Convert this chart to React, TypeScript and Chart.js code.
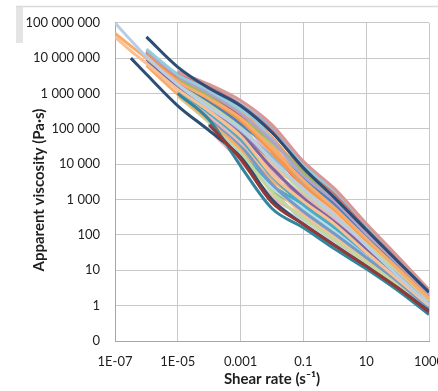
import { useEffect, useRef } from "react";
import { Chart, registerables } from "chart.js";

Chart.register(...registerables);

// Shear rates (s^-1) shared by all samples
const shearRates = [1e-7, 3.2e-7, 1e-6, 1e-5, 1e-4, 1e-3, 1e-2, 0.1, 1, 10, 100, 1000];

const xTickValues = [1e-7, 1e-5, 1e-3, 0.1, 10, 1000];
const xTickLabels = ["1E-07", "1E-05", "0.001", "0.1", "10", "1000"];
const yTickValues = [0.1, 1, 10, 100, 1e3, 1e4, 1e5, 1e6, 1e7, 1e8];
const yTickLabels = ["0", "1", "10", "100", "1 000", "10 000", "100 000", "1 000 000", "10 000 000", "100 000 000"];

const xTitle = "Shear rate (s\u207B\u00B9)";
const yTitle = "Apparent viscosity (Pa\u00B7s)";

const N = null;
// Apparent viscosity (Pa·s) of each sample
const s01 = [N, N, 4.0e7, 5.6e6, 1.4e6, 4.5e5, 7.9e4, 7.9e3, 1.1e3, 1.4e2, 18, 2.4];
const s02 = [N, N, N, N, 1.3e5, 1.4e4, 8.3e2, 2.0e2, 50, 13, 3.2, 0.66];
const s03 = [N, N, N, 1.0e6, 1.8e5, 8.9e3, 5.6e2, 1.6e2, 40, 11, 2.7, 0.56];
const s04 = [N, 1.0e7, 3.5e6, 4.5e5, 8.9e4, 1.6e4, 1.0e3, 2.0e2, 50, 13, 3.2, 0.71];
const s05 = [1e8, 3.2e7, 1.1e7, 1.8e6, 4.0e5, 1.0e5, 1.3e4, 2.0e3, 3.5e2, 50, 7.1, 1.1];
const s06 = [5.0e7, 2.2e7, 1.0e7, 2.2e6, 7.1e5, 2.0e5, 2.8e4, 3.5e3, 5.6e2, 79, 11, 1.6];
const s07 = [4.0e7, 1.6e7, 7.1e6, 1.3e6, 3.2e5, 6.3e4, 5.0e3, 8.9e2, 2.0e2, 32, 5.6, 1.0];
const s08 = [N, N, N, 4.0e6, 1.8e6, 6.3e5, 1.3e5, 1.2e4, 2.0e3, 2.1e2, 25, 2.8];
const s09 = [N, N, N, 4.0e6, 1.5e6, 4.6e5, 8.5e4, 7.3e3, 1.35e3, 1.5e2, 20, 2.4];
const s10 = [N, N, 1.8e7, 3.5e6, 1.2e6, 3.5e5, 7.9e4, 9.1e3, 1.6e3, 1.7e2, 22, 2.6];
const s11 = [N, N, 1.6e7, 3.1e6, 1.0e6, 2.7e5, 4.6e4, 4.8e3, 9.1e2, 1.1e2, 16, 2.0];
const s12 = [N, N, N, 2.7e6, 8.1e5, 2.0e5, 4.4e4, 5.9e3, 1.1e3, 1.3e2, 18, 2.2];
const s13 = [N, N, 1.3e7, 2.4e6, 7.0e5, 1.7e5, 2.2e4, 2.5e3, 5.1e2, 72, 12, 1.6];
const s14 = [N, N, N, 2.2e6, 6.0e5, 1.4e5, 2.6e4, 3.9e3, 7.5e2, 98, 14.5, 1.9];
const s15 = [N, N, 1.1e7, 1.95e6, 5.1e5, 1.1e5, 1.3e4, 1.7e3, 3.4e2, 55, 9.3, 1.4];
const s16 = [N, N, N, 1.8e6, 4.4e5, 9.1e4, 1.7e4, 3.1e3, 6.2e2, 84, 13, 1.7];
const s17 = [N, N, 9.4e6, 1.6e6, 3.8e5, 7.5e4, 7.8e3, 1.1e3, 2.3e2, 41, 7.6, 1.15];
const s18 = [N, N, N, 1.4e6, 3.2e5, 6.2e4, 1.0e4, 2.0e3, 4.2e2, 63, 10.5, 1.5];
const s19 = [N, N, 7.9e6, 1.3e6, 2.8e5, 5.0e4, 4.6e3, 7.1e2, 1.6e2, 31, 6.0, 1.0];
const s20 = [N, N, N, 1.2e6, 2.3e5, 4.1e4, 6.0e3, 1.3e3, 2.8e2, 47, 8.4, 1.26];
const s21 = [N, N, N, 1.05e6, 2.0e5, 3.4e4, 2.7e3, 4.6e2, 1.06e2, 23, 4.9, 0.84];
const s22 = [N, N, 6.2e6, 9.4e5, 1.7e5, 2.75e4, 3.5e3, 8.7e2, 1.9e2, 35, 6.8, 1.07];
const s23 = [N, N, N, 8.5e5, 1.5e5, 2.2e4, 1.6e3, 3.0e2, 72, 17, 3.9, 0.72];
const s24 = [N, N, N, N, 1.26e5, 1.8e4, 2.1e3, 5.7e2, 1.3e2, 27, 5.4, 0.91];
const s25 = [N, N, N, N, 1.1e5, 1.5e4, 1.0e3, 2.2e2, 54, 14, 3.4, 0.65];
const s26 = [N, N, N, 3.8e6, 1.4e6, 4.1e5, 5.2e4, 4.1e3, 8.0e2, 1.0e2, 15, 2.0];
const s27 = [N, N, 1.5e7, 2.8e6, 8.9e5, 2.3e5, 2.45e4, 2.2e3, 4.5e2, 67, 11, 1.5];
const s28 = [N, N, N, 2.3e6, 6.6e5, 1.55e5, 3.9e4, 6.7e3, 1.25e3, 1.4e2, 19.5, 2.3];
const s29 = [N, N, 1.08e7, 1.9e6, 4.8e5, 1.04e5, 8.5e3, 9.5e2, 2.0e2, 38, 7.1, 1.1];
const s30 = [N, N, N, 1.5e6, 3.5e5, 6.9e4, 1.8e4, 4.4e3, 8.5e2, 1.06e2, 15.5, 2.0];
const s31 = [N, N, N, N, 2.6e5, 4.6e4, 2.9e3, 3.7e2, 87, 20, 4.4, 0.78];
const s32 = [N, N, N, 1.0e6, 1.9e5, 3.1e4, 5.7e3, 1.7e3, 3.4e2, 55, 9.3, 1.4];
const s33 = [N, N, N, N, 1.4e5, 2.1e4, 2.6e3, 7.1e2, 1.6e2, 31, 6.0, 1.0];
const s34 = [N, N, N, N, 9.3e4, 1.2e4, 1.2e3, 3.4e2, 80, 18, 4.1, 0.74];
const s35 = [N, N, N, 3.3e6, 1.1e6, 3.1e5, 3.6e4, 2.9e3, 5.7e2, 79, 12.5, 1.7];
const s36 = [N, N, 1.16e7, 2.0e6, 5.5e5, 1.2e5, 3.7e4, 7.9e3, 1.46e3, 1.6e2, 21, 2.5];
const s37 = [N, N, 9.8e6, 1.65e6, 4.0e5, 8.1e4, 2.4e4, 6.2e3, 1.15e3, 1.35e2, 18.5, 2.25];
const s38 = [N, N, N, 1.35e6, 2.95e5, 5.4e4, 1.3e4, 3.4e3, 6.6e2, 89, 13.5, 1.8];
const s39 = [N, N, N, 1.1e6, 2.15e5, 3.6e4, 7.6e3, 2.2e3, 4.5e2, 67, 11, 1.5];
const s40 = [N, N, N, N, 1.6e5, 2.4e4, 4.0e3, 1.2e3, 2.6e2, 45, 8.1, 1.2];
const s41 = [N, N, N, N, 1.15e5, 1.6e4, 1.9e3, 5.0e2, 1.15e2, 25, 5.1, 0.87];
const s42 = [N, N, 1.4e7, 2.5e6, 7.4e5, 1.8e5, 1.6e4, 1.45e3, 3.0e2, 50, 8.7, 1.3];
const s43 = [N, N, N, 3.5e6, 1.2e6, 3.5e5, 5.7e4, 5.2e3, 9.8e2, 1.2e2, 17, 2.1];
const s44 = [N, N, N, 1.15e6, 2.35e5, 4.1e4, 2.1e3, 2.4e2, 59, 15, 3.5, 0.66];
const s45 = [N, N, 1.2e7, 2.15e6, 6.0e5, 1.4e5, 8.9e3, 7.7e2, 1.7e2, 32, 6.3, 1.02];
const s46 = [N, N, N, 4.2e6, 1.6e6, 5.0e5, 1.07e5, 1.0e4, 1.8e3, 1.8e2, 23.5, 2.7];

const seriesValues = [
  s01, s02, s03, s04, s05, s06, s07, s08, s09, s10, s11, s12,
  s13, s14, s15, s16, s17, s18, s19, s20, s21, s22, s23, s24,
  s25, s26, s27, s28, s29, s30, s31, s32, s33, s34, s35, s36,
  s37, s38, s39, s40, s41, s42, s43, s44, s45, s46,
];

const seriesColors = [
  "#2C4D75", "#953735", "#31859C", "#2C4D75", "#B9CDE5", "#F9AB6B",
  "#FAC090", "#D99694", "#CD7371", "#93CDDD", "#B3A2C7", "#9BBB59",
  "#F79646", "#4F81BD", "#C3D69B", "#95B3D7", "#8064A2", "#FAC090",
  "#4BACC6", "#E6B9B8", "#729ACA", "#F9AB6B", "#C3D69B", "#B7DEE8",
  "#B7DEE8", "#A7C0DE", "#C0504D", "#AFC97A", "#9983B5", "#6FBDD1",
  "#FAC090", "#D7E4BD", "#4BACC6", "#E6B9B8", "#F9AB6B", "#95B3D7",
  "#E6B9B8", "#93CDDD", "#FAC090", "#B3A2C7", "#9BBB59", "#B9CDE5",
  "#F79646", "#CCC1DA", "#C3D69B", "#95B3D7",
];

const FONT = "Lato, 'Open Sans', sans-serif";
const TEXT = "#1e1e1e";

const decorPlugin = {
  id: "decor",
  beforeDraw(chart: any) {
    const ctx = chart.ctx;
    ctx.save();
    ctx.fillStyle = "#e4e4e4";
    ctx.fillRect(16, 6, 7, 37);
    ctx.strokeStyle = "#dadada";
    ctx.lineWidth = 1.5;
    ctx.beginPath();
    ctx.moveTo(16, 6.5);
    ctx.lineTo(chart.width, 6.5);
    ctx.stroke();
    ctx.restore();
  },
  afterDraw(chart: any) {
    const ctx = chart.ctx;
    ctx.save();
    ctx.translate(39, 190);
    ctx.rotate(-Math.PI / 2);
    ctx.font = `bold 15px ${FONT}`;
    ctx.fillStyle = TEXT;
    ctx.textAlign = "center";
    ctx.textBaseline = "middle";
    ctx.fillText(yTitle, 0, 0);
    ctx.restore();
  },
};

export default function App() {
  const canvasRef = useRef<HTMLCanvasElement | null>(null);

  useEffect(() => {
    const canvas = canvasRef.current;
    if (!canvas) return;
    const datasets = seriesValues.map((values, i) => ({
      label: `Sample ${i + 1}`,
      data: values,
      borderColor: seriesColors[i],
      backgroundColor: seriesColors[i],
      borderWidth: 3,
      pointRadius: 0,
      fill: false,
      cubicInterpolationMode: "monotone" as const,
      spanGaps: false,
    }));

    const chart = new Chart(canvas, {
      type: "line",
      data: { labels: shearRates, datasets },
      plugins: [decorPlugin],
      options: {
        animation: false,
        responsive: false,
        maintainAspectRatio: false,
        layout: { padding: { top: 16, right: 41, bottom: 0, left: 0 } },
        plugins: {
          legend: { display: false },
          tooltip: { enabled: false },
        },
        scales: {
          x: {
            type: "logarithmic",
            min: 1e-7,
            max: 1000,
            afterBuildTicks: (scale: any) => {
              scale.ticks = xTickValues.map((v) => ({ value: v }));
            },
            afterFit: (scale: any) => {
              scale.height = 50;
            },
            ticks: {
              autoSkip: false,
              maxRotation: 0,
              padding: 13,
              color: TEXT,
              font: { family: FONT, size: 13 },
              callback: (value: any) => {
                const idx = xTickValues.findIndex((t) => Math.abs(Math.log10(t) - Math.log10(Number(value))) < 1e-6);
                return idx >= 0 ? xTickLabels[idx] : "";
              },
            },
            grid: { color: "#c8c8c8", lineWidth: 1, drawTicks: false },
            border: { color: "#a6a6a6", width: 1 },
            title: {
              display: true,
              text: xTitle,
              color: TEXT,
              font: { family: FONT, size: 15, weight: "bold" },
              padding: { top: 0, bottom: 3 },
            },
          },
          y: {
            type: "logarithmic",
            min: 0.1,
            max: 1e8,
            afterBuildTicks: (scale: any) => {
              scale.ticks = yTickValues.map((v) => ({ value: v }));
            },
            afterFit: (scale: any) => {
              scale.width = 115;
            },
            ticks: {
              autoSkip: false,
              padding: 15,
              color: TEXT,
              font: { family: FONT, size: 13 },
              callback: (value: any) => {
                const idx = yTickValues.findIndex((t) => Math.abs(Math.log10(t) - Math.log10(Number(value))) < 1e-6);
                return idx >= 0 ? yTickLabels[idx] : "";
              },
            },
            grid: { color: "#c8c8c8", lineWidth: 1, drawTicks: false },
            border: { color: "#a6a6a6", width: 1 },
          },
        },
      },
    });
    return () => chart.destroy();
  }, []);

  return (
    <div style={{ position: "absolute", left: 0, top: 0, width: 438, height: 391, overflow: "hidden", background: "#fff" }}>
      <canvas ref={canvasRef} width={470} height={391} style={{ width: 470, height: 391, display: "block" }} />
    </div>
  );
}
